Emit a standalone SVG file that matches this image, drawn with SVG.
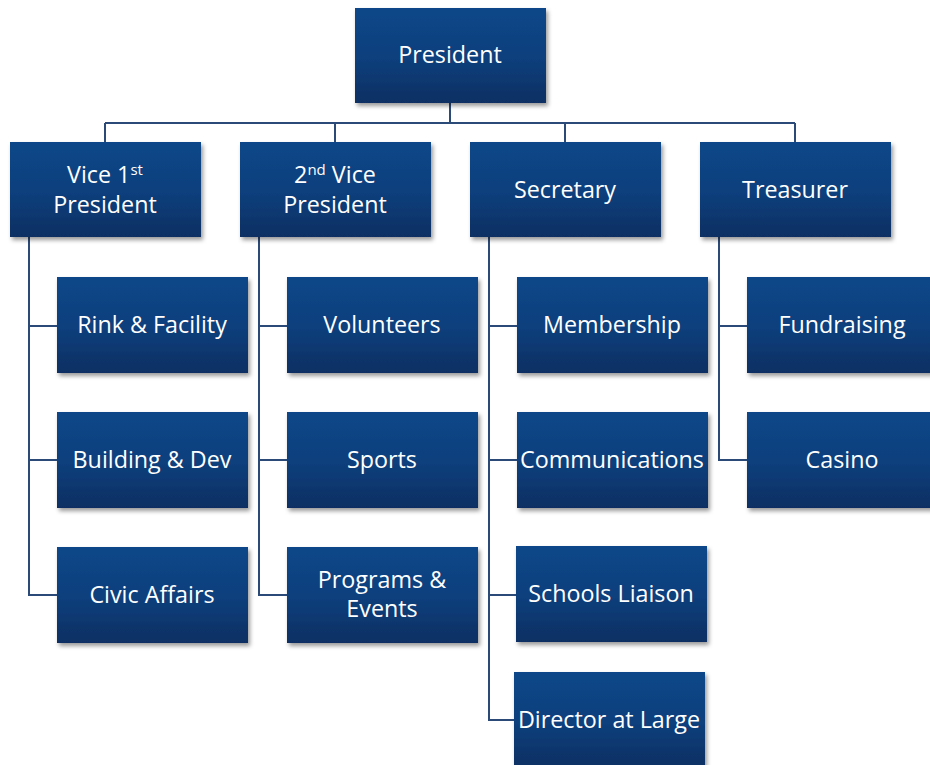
<svg xmlns="http://www.w3.org/2000/svg" width="930" height="765" viewBox="0 0 930 765">
<defs>
<linearGradient id="g" x1="0" y1="0" x2="0" y2="1">
<stop offset="0" stop-color="#114789"/>
<stop offset="0.5" stop-color="#0f407d"/>
<stop offset="1" stop-color="#0a2f63"/>
</linearGradient>
<filter id="sh" x="-10%" y="-10%" width="125%" height="130%">
<feDropShadow dx="2" dy="3" stdDeviation="2" flood-color="#000" flood-opacity="0.4"/>
</filter>
<style>
.b{fill:url(#g);filter:url(#sh)}
.t{font-family:"Open Sans","Liberation Sans",sans-serif;font-size:23.3px;fill:#fff;text-anchor:middle}
.c{fill:none;stroke:#2c4a78;stroke-width:2}
</style>
</defs>
<rect width="930" height="765" fill="#fff"/>
<g id="connectors">
<path class="c" d="M450 103V123M105 123H795M105 123V142M335 123V142M565 123V142M795 123V142"/>
<path class="c" d="M29 237V595H57M29 326H57M29 460H57"/>
<path class="c" d="M259 237V595H287M259 326H287M259 460H287"/>
<path class="c" d="M489 237V720H514M489 326H517M489 460H517M489 595H517"/>
<path class="c" d="M719 237V460H747M719 326H747"/>
</g>
<g id="president"><rect class="b" x="355" y="8" width="191" height="95"/><text class="t" x="450" y="63">President</text></g>
<g id="vice1"><rect class="b" x="10" y="142" width="191" height="95"/><text class="t" x="105" y="183">Vice 1<tspan font-size="15" dy="-8">st</tspan></text><text class="t" x="105" y="213">President</text></g>
<g id="vice2"><rect class="b" x="240" y="142" width="191" height="95"/><text class="t" x="335" y="183">2<tspan font-size="15" dy="-8">nd</tspan><tspan dy="8"> Vice</tspan></text><text class="t" x="335" y="213">President</text></g>
<g id="secretary"><rect class="b" x="470" y="142" width="191" height="95"/><text class="t" x="565" y="198">Secretary</text></g>
<g id="treasurer"><rect class="b" x="700" y="142" width="191" height="95"/><text class="t" x="795" y="198">Treasurer</text></g>
<g id="rink"><rect class="b" x="57" y="277" width="191" height="96"/><text class="t" x="152" y="333">Rink &amp; Facility</text></g>
<g id="building"><rect class="b" x="57" y="412" width="191" height="96"/><text class="t" x="152" y="468">Building &amp; Dev</text></g>
<g id="civic"><rect class="b" x="57" y="547" width="191" height="96"/><text class="t" x="152" y="603">Civic Affairs</text></g>
<g id="volunteers"><rect class="b" x="287" y="277" width="191" height="96"/><text class="t" x="382" y="333">Volunteers</text></g>
<g id="sports"><rect class="b" x="287" y="412" width="191" height="96"/><text class="t" x="382" y="468">Sports</text></g>
<g id="programs"><rect class="b" x="287" y="547" width="191" height="96"/><text class="t" x="382" y="588">Programs &amp;</text><text class="t" x="382" y="617">Events</text></g>
<g id="membership"><rect class="b" x="517" y="277" width="191" height="96"/><text class="t" x="612" y="333">Membership</text></g>
<g id="communications"><rect class="b" x="517" y="412" width="191" height="96"/><text class="t" x="612" y="468">Communications</text></g>
<g id="schools"><rect class="b" x="516" y="546" width="191" height="96"/><text class="t" x="611" y="602">Schools Liaison</text></g>
<g id="director"><rect class="b" x="514" y="672" width="191" height="96"/><text class="t" x="609" y="728">Director at Large</text></g>
<g id="fundraising"><rect class="b" x="747" y="277" width="191" height="96"/><text class="t" x="842" y="333">Fundraising</text></g>
<g id="casino"><rect class="b" x="747" y="412" width="191" height="96"/><text class="t" x="842" y="468">Casino</text></g>
</svg>
